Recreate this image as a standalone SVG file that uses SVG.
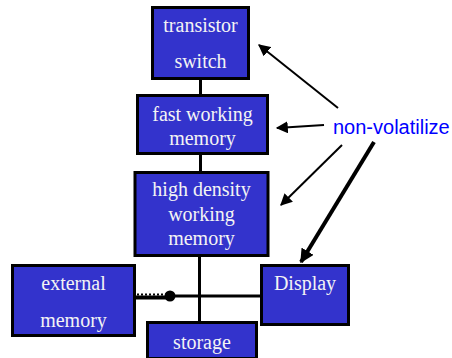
<svg xmlns="http://www.w3.org/2000/svg" width="452" height="358" viewBox="0 0 452 358">
<style>
.box{fill:#3333cc;stroke:#000;stroke-width:3}
.lbl{font-family:"Liberation Serif","Times New Roman",serif;font-size:20px;fill:#f4f4f4;text-anchor:middle}
.ln{stroke:#000;stroke-width:3;fill:none}
.arr{stroke:#000;stroke-width:2;fill:none;marker-end:url(#ah)}
</style>
<defs>
<marker id="ah" viewBox="0 0 10 10" refX="9" refY="5" markerWidth="6" markerHeight="6" orient="auto" markerUnits="strokeWidth">
<path d="M0,0 L10,5 L0,10 z" fill="#000"/>
</marker>
<marker id="ah2" viewBox="0 0 10 10" refX="9" refY="5" markerWidth="3.5" markerHeight="3.5" orient="auto" markerUnits="strokeWidth">
<path d="M0,0 L10,5 L0,10 z" fill="#000"/>
</marker>
</defs>
<g id="connectors">
<line class="ln" x1="200.5" y1="79" x2="200.5" y2="96"/>
<line class="ln" x1="200.5" y1="154" x2="200.5" y2="172"/>
<line class="ln" x1="199.5" y1="256" x2="199.5" y2="323"/>
<line class="ln" x1="170" y1="296" x2="262" y2="296"/>
<line x1="135" y1="297.5" x2="170" y2="297.5" stroke="#000" stroke-width="4"/>
<line x1="137" y1="294.5" x2="166" y2="294.5" stroke="#000" stroke-width="2" stroke-dasharray="2 2"/>
<circle cx="170" cy="296" r="5.5" fill="#000"/>
<line class="arr" x1="338" y1="108" x2="259" y2="45"/>
<line class="arr" x1="324" y1="125" x2="277" y2="128"/>
<line class="arr" x1="342" y1="145" x2="281" y2="205"/>
<line x1="374" y1="142" x2="301" y2="262" stroke="#000" stroke-width="4" marker-end="url(#ah2)"/>
</g>
<g id="transistor-switch">
<rect class="box" x="152.5" y="7.5" width="96" height="71"/>
<text class="lbl" x="200.5" y="32">transistor</text>
<text class="lbl" x="200.5" y="68">switch</text>
</g>
<g id="fast-working-memory">
<rect class="box" x="137.5" y="95.5" width="130" height="58"/>
<text class="lbl" x="202.5" y="121">fast working</text>
<text class="lbl" x="202.5" y="145">memory</text>
</g>
<g id="high-density-working-memory">
<rect class="box" x="135" y="172.5" width="133" height="83" stroke-width="4"/>
<text class="lbl" x="201.5" y="196">high density</text>
<text class="lbl" x="201.5" y="221">working</text>
<text class="lbl" x="201.5" y="245">memory</text>
</g>
<g id="external-memory">
<rect class="box" x="12.5" y="265.5" width="122" height="70"/>
<text class="lbl" x="73.5" y="290">external</text>
<text class="lbl" x="73.5" y="327">memory</text>
</g>
<g id="display">
<rect class="box" x="261.5" y="265.5" width="87" height="59"/>
<text class="lbl" x="305" y="290">Display</text>
</g>
<g id="storage">
<rect class="box" x="147.5" y="322.5" width="109" height="36"/>
<text class="lbl" x="202" y="349">storage</text>
</g>
<g id="non-volatilize">
<text x="333" y="134" font-family="'Liberation Sans',Arial,sans-serif" font-size="20" fill="#0000ff">non-volatilize</text>
</g>
</svg>
